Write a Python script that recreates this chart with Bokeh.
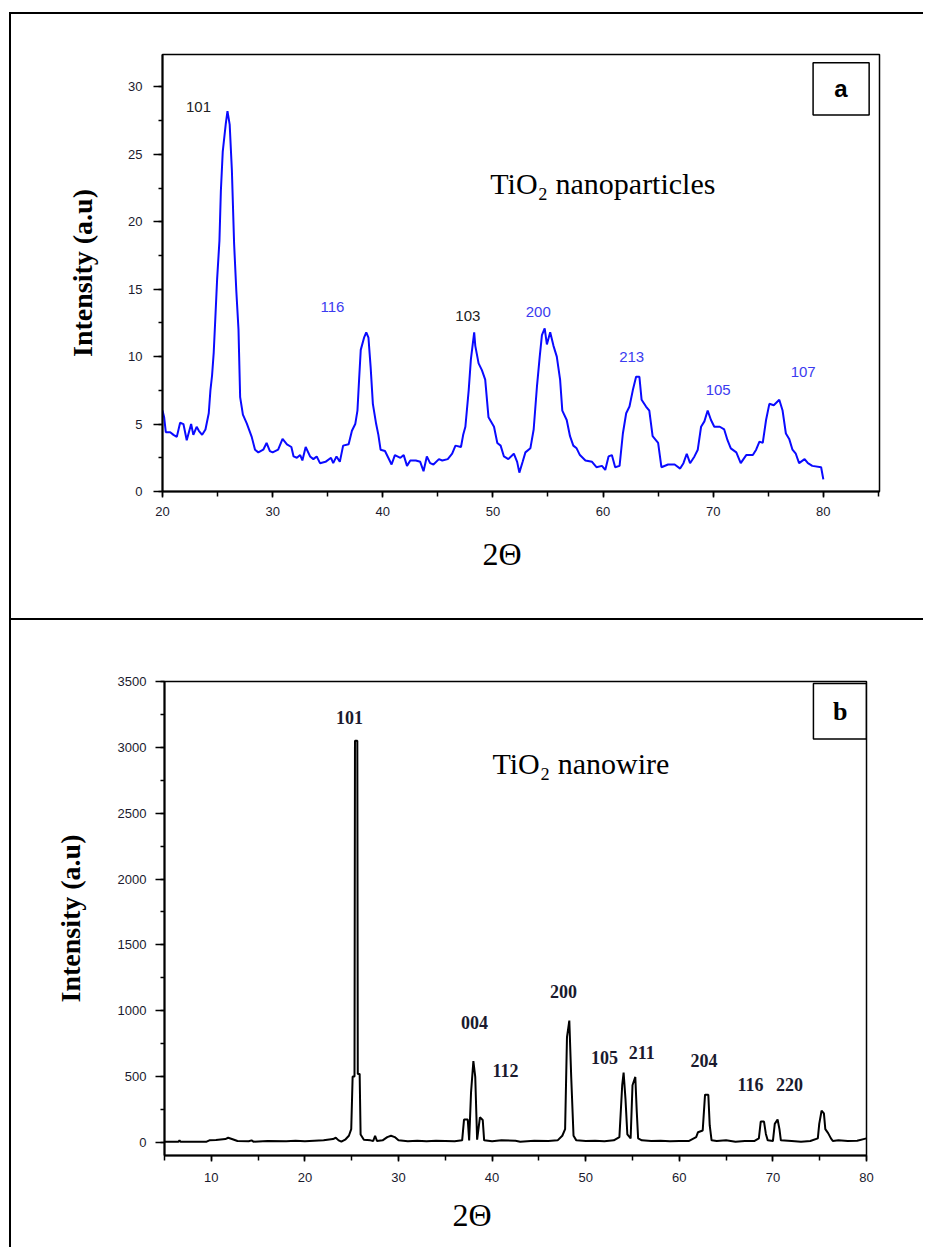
from bokeh.plotting import figure
from bokeh.models import Range1d, Label, BoxAnnotation, SingleIntervalTicker, Title
from bokeh.layouts import column
from bokeh.embed import file_html
from bokeh.resources import INLINE

# ---------------- Panel a data (TiO2 nanoparticles) ----------------
a_two_theta = [20.0, 20.15, 20.3, 20.7, 21.0, 21.3, 21.6, 21.9, 22.2, 22.6, 22.8, 23.1, 23.3, 23.6, 23.9,
               24.2, 24.35, 24.5, 24.65, 24.8, 24.96, 25.17, 25.3, 25.47, 25.75, 25.9, 26.1, 26.3, 26.5,
               26.7, 26.9, 27.05, 27.3, 27.65, 28.1, 28.4, 28.7, 29.15, 29.45, 29.75, 30.0, 30.5, 30.9,
               31.3, 31.7, 31.9, 32.2, 32.5, 32.7, 33.0, 33.4, 33.7, 34.0, 34.3, 34.8, 35.3, 35.5, 35.8,
               36.1, 36.4, 36.9, 37.2, 37.5, 37.7, 37.85, 38.0, 38.3, 38.5, 38.7, 38.9, 39.1, 39.4, 39.6,
               39.8, 40.2, 40.5, 40.8, 41.1, 41.6, 41.9, 42.2, 42.5, 43.0, 43.4, 43.7, 44.0, 44.3, 44.6,
               45.1, 45.4, 45.9, 46.3, 46.6, 47.1, 47.3, 47.5, 47.8, 48.0, 48.3, 48.4, 48.7, 49.0, 49.3,
               49.6, 50.1, 50.4, 50.7, 51.0, 51.4, 51.9, 52.2, 52.4, 52.7, 52.95, 53.4, 53.7, 54.0, 54.25,
               54.45, 54.7, 54.9, 55.2, 55.5, 55.8, 56.1, 56.3, 56.7, 57.0, 57.3, 57.6, 57.9, 58.4, 59.0,
               59.4, 59.9, 60.2, 60.5, 60.8, 61.1, 61.5, 61.8, 62.1, 62.4, 62.7, 63.0, 63.3, 63.5, 63.9,
               64.2, 64.5, 65.0, 65.3, 65.9, 66.5, 67.0, 67.3, 67.6, 67.9, 68.3, 68.6, 68.9, 69.2, 69.5,
               69.8, 70.1, 70.6, 71.0, 71.3, 71.6, 72.1, 72.5, 73.0, 73.6, 73.9, 74.2, 74.5, 74.8, 75.1,
               75.5, 76.0, 76.3, 76.6, 76.9, 77.2, 77.5, 77.8, 78.3, 78.6, 79.0, 79.8, 80.0]
a_intensity = [6.0, 5.5, 4.4, 4.4, 4.2, 4.05, 5.1, 5.0, 3.8, 5.0, 4.2, 4.8, 4.5, 4.2, 4.6,
               5.8, 7.5, 8.6, 10.3, 12.9, 15.75, 18.6, 22.3, 25.2, 27.3, 28.2, 27.2, 23.8, 18.4,
               14.9, 12.0, 7.0, 5.7, 5.05, 4.05, 3.1, 2.9, 3.1, 3.6, 3.0, 2.9, 3.1, 3.9,
               3.5, 3.3, 2.6, 2.5, 2.7, 2.3, 3.3, 2.6, 2.4, 2.6, 2.1, 2.2, 2.5, 2.1, 2.6,
               2.2, 3.4, 3.5, 4.5, 5.0, 6.0, 8.3, 10.5, 11.4, 11.8, 11.4, 9.2, 6.5, 5.0, 4.2,
               3.1, 3.0, 2.5, 2.0, 2.7, 2.5, 2.7, 1.9, 2.3, 2.3, 2.2, 1.5, 2.6, 2.1, 2.0,
               2.4, 2.3, 2.4, 2.8, 3.4, 3.3, 4.2, 4.8, 7.5, 9.8, 11.8, 10.8, 9.5, 9.0, 8.3,
               5.5, 4.8, 3.6, 3.4, 2.6, 2.4, 2.8, 2.2, 1.4, 2.2, 2.9, 3.2, 4.6, 7.8, 10.0,
               11.6, 12.1, 10.9, 11.8, 10.8, 10.0, 8.3, 6.0, 5.3, 4.1, 3.4, 3.2, 2.7, 2.3, 2.2,
               1.8, 1.9, 1.6, 2.6, 2.7, 1.8, 1.9, 4.3, 5.8, 6.3, 7.5, 8.5, 8.5, 6.8, 6.3,
               6.0, 4.1, 3.6, 1.8, 2.0, 2.0, 1.7, 2.1, 2.8, 2.1, 2.6, 3.1, 4.8, 5.2, 6.0,
               5.3, 4.8, 4.8, 4.6, 3.8, 3.2, 2.9, 2.1, 2.7, 2.7, 3.1, 3.7, 3.6, 5.3, 6.5,
               6.4, 6.8, 6.0, 4.3, 3.9, 3.1, 2.8, 2.1, 2.4, 2.1, 1.9, 1.8, 0.9]

a_peak_labels = ["101", "116", "103", "200", "213", "105", "107"]
a_peak_x = [23.27, 35.43, 47.72, 54.12, 62.6, 70.45, 78.17]
a_peak_y = [28.5, 13.66, 12.99, 13.29, 9.95, 7.5, 8.83]
a_peak_colors = ["#222222", "#3b3bf0", "#222222", "#3b3bf0", "#3b3bf0", "#3b3bf0", "#3b3bf0"]

# ---------------- Panel b data (TiO2 nanowire) ----------------
b_two_theta = [5.0, 6.5, 6.6, 6.7, 9.5, 9.8, 10.5, 11.5, 11.8, 12.2, 12.8, 14.0, 14.3, 14.5, 16.0, 18.0,
               19.0, 20.0, 21.0, 22.0, 23.0, 23.3, 23.6, 23.9, 24.3, 24.7, 24.95, 25.1, 25.3, 25.35,
               25.6, 25.65, 25.85, 25.95, 26.3, 27.0, 27.3, 27.5, 27.7, 28.3, 28.8, 29.2, 29.6, 30.0,
               31.0, 32.0, 33.0, 34.0, 35.0, 36.0, 36.8, 37.0, 37.4, 37.55, 37.75, 38.0, 38.2, 38.4,
               38.7, 39.0, 39.15, 40.0, 41.0, 42.5, 43.0, 44.5, 46.0, 47.0, 47.5, 47.8, 48.0, 48.25,
               48.45, 48.7, 49.0, 50.0, 51.0, 52.0, 53.0, 53.6, 53.9, 54.05, 54.25, 54.45, 54.8, 55.0,
               55.3, 55.45, 55.6, 56.0, 57.0, 58.0, 59.0, 60.0, 61.0, 61.8, 62.0, 62.5, 62.75, 63.1,
               63.25, 63.45, 64.0, 65.0, 66.0, 67.0, 68.0, 68.5, 68.7, 69.05, 69.25, 69.45, 70.0, 70.2,
               70.5, 70.7, 70.85, 72.0, 73.0, 74.0, 74.8, 74.95, 75.2, 75.45, 75.6, 75.9, 76.2, 76.4,
               77.0, 78.0, 79.0, 80.0]
b_intensity = [5, 5, 15, 5, 5, 15, 18, 25, 35, 25, 10, 8, 15, 5, 10, 8,
               12, 8, 12, 15, 25, 35, 15, 5, 20, 50, 100, 500, 500, 3050,
               3050, 520, 520, 60, 20, 15, 10, 50, 10, 15, 40, 50, 40, 15,
               8, 12, 8, 12, 10, 8, 15, 173, 173, 15, 380, 617, 497, 20,
               190, 170, 15, 8, 15, 12, 5, 12, 10, 15, 50, 100, 800, 925,
               500, 50, 15, 10, 12, 8, 15, 40, 434, 530, 330, 60, 30, 434,
               497, 242, 30, 15, 10, 12, 8, 10, 10, 40, 77, 90, 362, 362,
               128, 15, 10, 15, 5, 10, 10, 30, 158, 158, 64, 15, 10, 140,
               173, 100, 15, 10, 5, 10, 30, 140, 240, 220, 100, 70, 30, 10,
               15, 10, 12, 30]

b_peak_labels = ["101", "004", "112", "200", "105", "211", "204", "116", "220"]
b_peak_x = [24.77, 38.12, 41.43, 47.63, 52.0, 56.0, 62.64, 67.6, 71.77]
b_peak_y = [3227, 908, 549, 1144, 648, 679, 618, 442, 442]

TICK_FONT = "Liberation Sans"
SERIF = "Liberation Serif"


def style_axes(p, x_interval, y_interval, label_size="13px"):
    p.xgrid.visible = False
    p.ygrid.visible = False
    p.outline_line_color = "black"
    p.outline_line_width = 1.5
    p.xaxis.ticker = SingleIntervalTicker(interval=x_interval, num_minor_ticks=2)
    p.yaxis.ticker = SingleIntervalTicker(interval=y_interval, num_minor_ticks=2)
    for ax in (p.xaxis[0], p.yaxis[0]):
        ax.axis_line_color = "black"
        ax.axis_line_width = 2
        ax.major_tick_line_color = "black"
        ax.minor_tick_line_color = "black"
        ax.major_tick_line_width = 1.5
        ax.minor_tick_line_width = 1.5
        ax.major_tick_in = 0
        ax.minor_tick_in = 0
        ax.major_label_text_font = TICK_FONT
        ax.major_label_text_font_size = label_size
        ax.major_label_text_color = "#1a1a2e"
    p.yaxis.major_tick_out = 9
    p.yaxis.minor_tick_out = 4
    p.xaxis.major_tick_out = 6
    p.xaxis.minor_tick_out = 5
    p.yaxis.major_label_standoff = 11
    p.xaxis.major_label_standoff = 9
    p.yaxis.axis_label = "Intensity (a.u)"
    p.yaxis.axis_label_text_font = SERIF
    p.yaxis.axis_label_text_font_style = "bold"
    p.yaxis.axis_label_text_font_size = "28px"
    p.yaxis.axis_label_text_color = "black"


def x_title(p, offset, standoff):
    p.add_layout(Title(text="2Θ", align="left", offset=offset, standoff=standoff,
                       text_font=SERIF, text_font_size="32px", text_font_style="normal",
                       text_color="black"), "below")


# ---------------- Panel a figure ----------------
pa = figure(width=914, height=608, x_range=Range1d(20, 85.1), y_range=Range1d(0, 32.4),
            output_backend="svg", toolbar_location=None, frame_align=False,
            min_border_left=151, min_border_right=46, min_border_top=40, min_border_bottom=131,
            margin=(12, 0, 0, 9),
            styles={"border-left": "2px solid black", "border-top": "2px solid black",
                    "border-bottom": "2px solid black"})
style_axes(pa, 10, 5)
pa.yaxis.axis_label_standoff = 27
pa.line(a_two_theta, a_intensity, line_color="#0a0aff", line_width=2)

for t, x, y, c in zip(a_peak_labels, a_peak_x, a_peak_y, a_peak_colors):
    pa.add_layout(Label(x=x, y=y, text=t, text_align="center", text_baseline="alphabetic",
                        text_font=TICK_FONT, text_font_size="15px", text_color=c))

pa.add_layout(Label(x=49.76, y=22.87, text="TiO₂ nanoparticles", text_font=SERIF,
                    text_font_size="30px", text_color="black", text_baseline="alphabetic"))
pa.add_layout(BoxAnnotation(left=79.07, right=84.16, bottom=27.91, top=31.78,
                            fill_alpha=0, line_color="black", line_alpha=1, line_width=1.5))
pa.add_layout(Label(x=81.6, y=29.85, text="a", text_align="center", text_baseline="middle",
                    text_font=TICK_FONT, text_font_style="bold", text_font_size="24px",
                    text_color="black"))
x_title(pa, 320, 30)

# ---------------- Panel b figure ----------------
pb = figure(width=914, height=627, x_range=Range1d(5, 80), y_range=Range1d(-100, 3501),
            output_backend="svg", toolbar_location=None, frame_align=False,
            min_border_left=153, min_border_right=59, min_border_top=61, min_border_bottom=92,
            margin=(0, 0, 0, 9),
            styles={"border-left": "2px solid black"})
style_axes(pb, 10, 500)
pb.yaxis.axis_label_standoff = 29
pb.yaxis.major_label_standoff = 9
pb.xaxis.major_label_standoff = 11
pb.line(b_two_theta, b_intensity, line_color="black", line_width=2)

for t, x, y in zip(b_peak_labels, b_peak_x, b_peak_y):
    pb.add_layout(Label(x=x, y=y, text=t, text_align="center", text_baseline="alphabetic",
                        text_font=SERIF, text_font_style="bold", text_font_size="18px",
                        text_color="#1a1a2e"))

pb.add_layout(Label(x=40.04, y=2876, text="TiO₂ nanowire", text_font=SERIF,
                    text_font_size="30px", text_color="black", text_baseline="alphabetic"))
pb.add_layout(BoxAnnotation(left=74.33, right=80, bottom=3065, top=3485,
                            fill_alpha=0, line_color="black", line_alpha=1, line_width=1.5))
pb.add_layout(Label(x=77.2, y=3275, text="b", text_align="center", text_baseline="middle",
                    text_font=SERIF, text_font_style="bold", text_font_size="26px",
                    text_color="black"))
x_title(pb, 288, 20)

layout = column(pa, pb, spacing=0)
open("out.html", "w").write(file_html(layout, INLINE))
